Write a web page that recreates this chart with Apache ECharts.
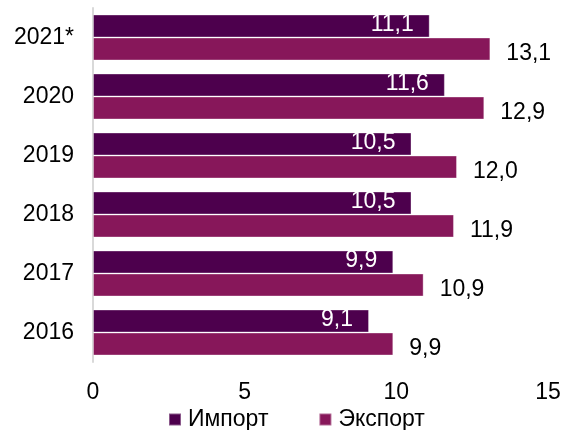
<!DOCTYPE html>
<html>
<head>
<meta charset="utf-8">
<script src="https://cdn.jsdelivr.net/npm/echarts@6/dist/echarts.min.js"></script>
<style>
  html, body { margin: 0; padding: 0; background: #fff; }
  #chart { width: 567px; height: 430px; }
</style>
</head>
<body>
<div id="chart"></div>
<script>
// данные
const years = ['2021*', '2020', '2019', '2018', '2017', '2016'];
const importVals = [11.1, 11.6, 10.5, 10.5, 9.9, 9.1];
const exportVals = [13.1, 12.9, 12.0, 11.9, 10.9, 9.9];
const xTicks = [0, 5, 10, 15];

const fmt = (p) => p.value.toFixed(1).replace('.', ',');
const font = 'Liberation Sans, Arial, sans-serif';
const fs = 23;

const myChart = echarts.init(document.getElementById('chart'));
const option = {
  animation: false,
  textStyle: { fontFamily: font },
  grid: { left: 93, right: 19, top: 8, bottom: 68 },
  legend: {
    top: 403,
    left: 163,
    itemWidth: 12,
    itemHeight: 12,
    itemGap: 50,
    icon: 'rect',
    textStyle: { fontSize: fs, color: '#000', fontFamily: font, padding: [0, 0, 0, 2] },
    data: ['Импорт', 'Экспорт']
  },
  xAxis: {
    type: 'value',
    min: xTicks[0],
    max: xTicks[xTicks.length - 1],
    interval: 5,
    axisLine: { show: false },
    axisTick: { show: false },
    splitLine: { show: false },
    axisLabel: { fontSize: fs, color: '#000', margin: 19, fontFamily: font }
  },
  yAxis: {
    type: 'category',
    inverse: true,
    data: years,
    axisLine: { show: true, lineStyle: { color: '#d9d9d9', width: 2 } },
    axisTick: { show: false },
    axisLabel: { fontSize: fs, color: '#000', margin: 19, fontFamily: font }
  },
  series: [
    {
      name: 'Импорт',
      type: 'bar',
      data: importVals,
      barGap: '0%',
      barCategoryGap: '22%',
      itemStyle: { color: '#4d004d', borderColor: 'rgba(255,255,255,0.35)', borderWidth: 1 },
      label: {
        show: true,
        position: 'insideRight',
        distance: 16,
        offset: [0, -1],
        color: '#fff',
        fontSize: fs,
        fontFamily: font,
        formatter: fmt
      }
    },
    {
      name: 'Экспорт',
      type: 'bar',
      data: exportVals,
      itemStyle: { color: '#87175a', borderColor: 'rgba(255,255,255,0.35)', borderWidth: 1 },
      label: {
        show: true,
        position: 'right',
        distance: 16,
        offset: [0, 5],
        color: '#000',
        fontSize: fs,
        fontFamily: font,
        formatter: fmt
      }
    }
  ]
};
myChart.setOption(option);
</script>
</body>
</html>
